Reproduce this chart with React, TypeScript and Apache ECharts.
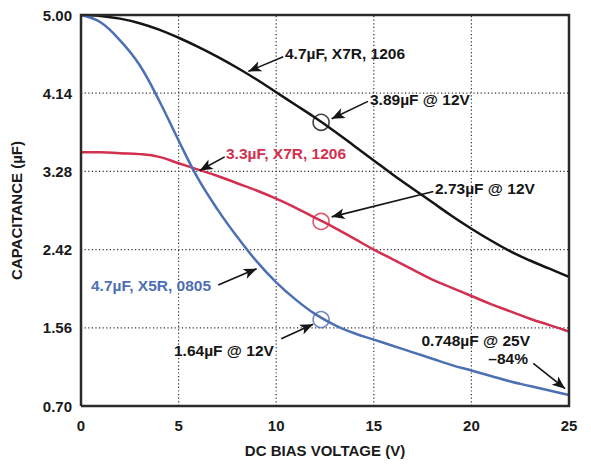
import React, { useEffect, useRef } from "react";
import * as echarts from "echarts";

const voltage = [0, 1, 2, 3, 4, 5, 6, 7, 8, 9, 10, 11, 12, 13, 14, 15, 16, 17, 18, 19, 20, 21, 22, 23, 24, 25];
const capX7R47 = [5.0, 4.99, 4.96, 4.91, 4.84, 4.75, 4.65, 4.54, 4.42, 4.29, 4.15, 4.01, 3.87, 3.72, 3.56, 3.4, 3.24, 3.09, 2.94, 2.79, 2.65, 2.52, 2.4, 2.3, 2.21, 2.12];
const capX7R33 = [3.49, 3.49, 3.48, 3.47, 3.44, 3.37, 3.3, 3.23, 3.15, 3.07, 2.98, 2.88, 2.77, 2.66, 2.54, 2.42, 2.31, 2.2, 2.09, 2.0, 1.91, 1.82, 1.74, 1.66, 1.59, 1.52];
const capX5R47 = [5.0, 4.92, 4.72, 4.45, 4.06, 3.62, 3.2, 2.86, 2.56, 2.29, 2.06, 1.87, 1.71, 1.59, 1.5, 1.43, 1.36, 1.29, 1.22, 1.15, 1.09, 1.03, 0.97, 0.92, 0.87, 0.82];

const circleX7R47 = [12.3, 3.82];
const circleX7R33 = [12.3, 2.73];
const circleX5R47 = [12.3, 1.65];

const xTicks = [0, 5, 10, 15, 20, 25];
const yTicks = [0.7, 1.56, 2.42, 3.28, 4.14, 5.0];

// arrows: [tailV, tailC, headV, headC]
const arrows = [
  [10.36, 4.54, 8.57, 4.38],
  [14.7, 4.05, 12.84, 3.86],
  [7.36, 3.44, 6.08, 3.29],
  [18.05, 3.06, 12.84, 2.78],
  [7.03, 2.03, 9.0, 2.21],
  [10.26, 1.44, 11.89, 1.6],
  [23.17, 1.17, 24.8, 0.89],
];

const BLACK = "#151515";
const RED = "#d32f4f";
const BLUE = "#4d6fb4";
const FRAME = "#2a2a2a";
const FONT = "'Liberation Sans', Arial, sans-serif";

export default function App() {
  const ref = useRef<HTMLDivElement>(null);
  useEffect(() => {
    if (!ref.current) return;
    const chart = echarts.init(ref.current, null, { renderer: "svg" });
    const xMin = xTicks[0];
    const xMax = xTicks[xTicks.length - 1];
    const yMin = yTicks[0];
    const yMax = yTicks[yTicks.length - 1];
    const yStep = +(yTicks[1] - yTicks[0]).toFixed(2);
    const xStep = xTicks[1] - xTicks[0];
    const pair = (arr: number[]) => voltage.map((v, i) => [v, arr[i]]);
    const txt = (text: string, x: number, y: number, color: string, align = "left") => ({
      type: "text",
      x,
      y,
      silent: true,
      z: 10,
      style: {
        text,
        fill: color,
        font: `bold 15.5px ${FONT}`,
        align,
        verticalAlign: "middle",
      },
    });
    const circle = (pt: number[], color: string) => ({
      type: "scatter",
      data: [pt],
      symbol: "circle",
      symbolSize: 16,
      itemStyle: { color: "rgba(0,0,0,0)", borderColor: color, borderWidth: 1.6 },
      silent: true,
      z: 5,
    });
    const gridSeries = (data: number[][]) => ({
      type: "line",
      data,
      showSymbol: false,
      silent: true,
      clip: false,
      z: 1,
      lineStyle: { color: "#333333", width: 1.2, type: [1.2, 2.4] },
    });
    const labelStyle = { fontFamily: FONT, fontWeight: "bold", fontSize: 15, color: "#1a1a1a" };

    const grids: any[] = [];
    xTicks.slice(1, -1).forEach((v) => grids.push(gridSeries([[v, yMin], [v, yMax]])));
    yTicks.slice(1, -1).forEach((v) => grids.push(gridSeries([[xMin, v], [xMax, v]])));

    chart.setOption({
      animation: false,
      grid: { left: 81, right: 22, top: 15, bottom: 59 },
      xAxis: {
        type: "value",
        min: xMin,
        max: xMax,
        interval: xStep,
        name: "DC BIAS VOLTAGE (V)",
        nameLocation: "middle",
        nameGap: 37,
        nameTextStyle: labelStyle,
        axisLine: { show: false },
        axisTick: { show: false },
        axisLabel: { ...labelStyle, margin: 12 },
        splitLine: { show: false },
      },
      yAxis: {
        type: "value",
        min: yMin,
        max: yMax,
        interval: yStep,
        name: "CAPACITANCE (µF)",
        nameLocation: "middle",
        nameGap: 57,
        nameTextStyle: labelStyle,
        axisLine: { show: false },
        axisTick: { show: false },
        axisLabel: { ...labelStyle, margin: 9, formatter: (v: number) => v.toFixed(2) },
        splitLine: { show: false },
      },
      series: [
        ...grids,
        {
          type: "line",
          data: [[xMin, yMin], [xMax, yMin], [xMax, yMax], [xMin, yMax], [xMin, yMin]],
          showSymbol: false,
          silent: true,
          clip: false,
          z: 4,
          lineStyle: { color: FRAME, width: 2.5, join: "miter" },
        },
        {
          type: "line",
          data: pair(capX7R47),
          smooth: 0.4,
          showSymbol: false,
          lineStyle: { color: BLACK, width: 2.5 },
          silent: true,
          z: 2,
          markLine: {
            silent: true,
            symbol: ["none", "arrow"],
            symbolSize: [8, 13],
            label: { show: false },
            lineStyle: { color: BLACK, width: 1.6, type: "solid" },
            emphasis: { disabled: true },
            data: arrows.map((a) => [{ coord: [a[0], a[1]] }, { coord: [a[2], a[3]] }]),
          },
        },
        {
          type: "line",
          data: pair(capX7R33),
          smooth: 0.4,
          showSymbol: false,
          lineStyle: { color: RED, width: 2.5 },
          silent: true,
          z: 2,
        },
        {
          type: "line",
          data: pair(capX5R47),
          smooth: 0.4,
          showSymbol: false,
          lineStyle: { color: BLUE, width: 2.5 },
          silent: true,
          z: 2,
        },
        circle(circleX7R47, BLACK),
        circle(circleX7R33, RED),
        circle(circleX5R47, BLUE),
      ],
      graphic: [
        txt("4.7µF, X7R, 1206", 285, 53, BLACK),
        txt("3.89µF @ 12V", 370, 99, BLACK),
        txt("3.3µF, X7R, 1206", 226, 153, RED),
        txt("2.73µF @ 12V", 435, 188, BLACK),
        txt("4.7µF, X5R, 0805", 91, 285, BLUE),
        txt("1.64µF @ 12V", 174, 350, BLACK),
        txt("0.748µF @ 25V", 530, 340, BLACK, "right"),
        txt("–84%", 528, 358, BLACK, "right"),
      ],
    });
    return () => chart.dispose();
  }, []);
  return (
    <div
      ref={ref}
      style={{ position: "fixed", left: 0, top: 0, width: 591, height: 465, background: "#fff" }}
    />
  );
}
